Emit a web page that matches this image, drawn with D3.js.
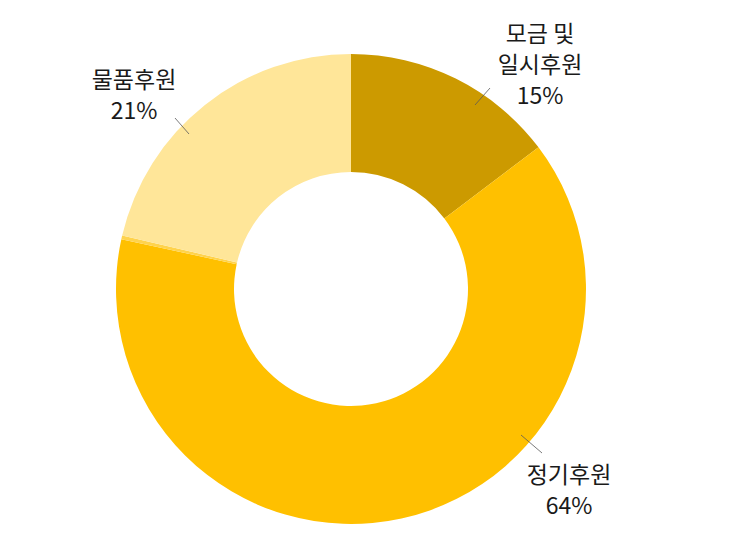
<!DOCTYPE html>
<html>
<head>
<meta charset="utf-8">
<script src="https://cdn.jsdelivr.net/npm/d3@7"></script>
<style>
  body { margin: 0; background: #fff; }
  text { font-family: "Noto Sans CJK KR", "Noto Sans", sans-serif; }
</style>
</head>
<body>
<div id="chart"></div>
<script>
// donation share

var categories = ["모금 및 일시후원", "정기후원", "기타", "물품후원"];
var values = [14.7, 63.7, 0.25, 21.35];
var labelLines = [["모금 및", "일시후원"], ["정기후원"], [], ["물품후원"]];
var colors = ["#CC9A00", "#FFC000", "#FFD34D", "#FFE699"];

var width = 749, height = 554;
var cx = 351, cy = 289;
var outerR = 235, innerR = 117;

var svg = d3.select("#chart")
    .append("svg")
    .attr("width", width)
    .attr("height", height);

var g = svg.append("g")
    .attr("transform", "translate(" + cx + "," + cy + ")");

var data = categories.map(function (c, i) {
    return { name: c, value: values[i], lines: labelLines[i] };
});

var pie = d3.pie()
    .sort(null)
    .value(function (d) { return d.value; });

var arc = d3.arc()
    .innerRadius(innerR)
    .outerRadius(outerR);

var arcs = pie(data);
var total = d3.sum(values);

g.selectAll("path.slice")
    .data(arcs)
    .enter()
    .append("path")
    .attr("class", "slice")
    .attr("d", arc)
    .attr("fill", function (d, i) { return colors[i]; });

// label placement (text centre relative to chart centre) and leader lines
var labelPos = [
    { x: 189, y: -224, lx1: 124, ly1: -184, lx2: 139, ly2: -201 },
    { x: 218, y: 201, lx1: 170, ly1: 146, lx2: 191, ly2: 164 },
    null,
    { x: -217, y: -194, lx1: -162, ly1: -155, lx2: -176, ly2: -171 }
];

var lineH = 31;

arcs.forEach(function (d, i) {
    var p = labelPos[i];
    if (!p) return;
    g.append("line")
        .attr("x1", p.lx1).attr("y1", p.ly1)
        .attr("x2", p.lx2).attr("y2", p.ly2)
        .attr("stroke", "#595959")
        .attr("stroke-width", 0.8);

    var lines = d.data.lines.concat([Math.round(d.data.value / total * 100) + "%"]);
    var y0 = p.y - (lines.length - 1) * lineH / 2;
    lines.forEach(function (s, k) {
        g.append("text")
            .attr("text-anchor", "middle")
            .attr("font-size", 23)
            .attr("fill", "#1a1a1a")
            .attr("x", p.x)
            .attr("y", y0 + k * lineH)
            .attr("dy", "0.35em")
            .text(s);
    });
});
</script>
</body>
</html>
